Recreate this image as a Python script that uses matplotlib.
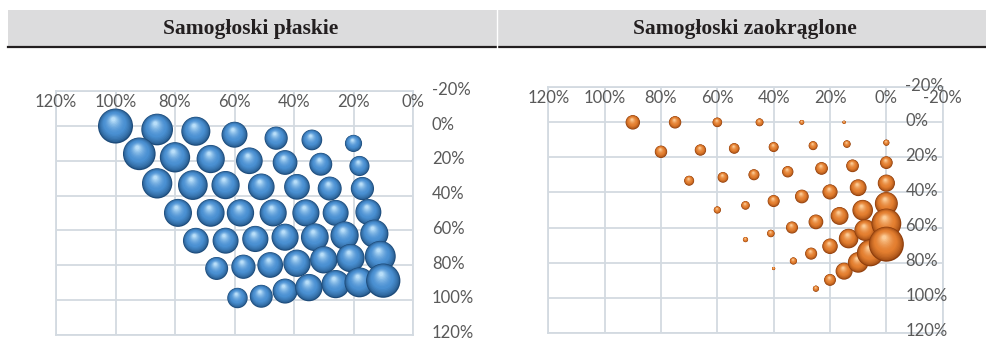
import matplotlib
matplotlib.use("Agg")
import matplotlib.pyplot as plt
import matplotlib.transforms as mtransforms
import numpy as np
from matplotlib.colors import to_rgb

# samogłoski płaskie (x, y w %, wielkość bąbla - wartość względna)
flat_x = [100, 86, 73, 60, 46, 34, 20,
          92, 80, 68, 55, 43, 31, 18,
          86, 74, 63, 51, 39, 28, 17,
          79, 68, 58, 47, 36, 26, 15,
          73, 63, 53, 43, 33, 23, 13,
          66, 57, 48, 39, 30, 21, 11,
          59, 51, 43, 35, 26, 18, 10]
flat_y = [0, 2, 3, 5, 7, 8, 10,
          16, 18, 19, 20, 21, 22, 23,
          33, 34, 34, 35, 35, 36, 36,
          50, 50, 50, 50, 50, 50, 49.5,
          66, 66, 65, 64, 64, 63, 62,
          82, 81, 80, 79, 77, 76, 75,
          99, 98, 95, 93, 91, 90, 89]
flat_v = [100, 82, 69, 55, 44, 35, 24,
          87, 75, 65, 58, 50, 43, 33,
          75, 72, 65, 58, 54, 47, 44,
          64, 63, 61, 60, 60, 55, 55,
          54, 55, 56, 60, 63, 65, 65,
          43, 48, 54, 61, 61, 65, 78,
          34, 43, 51, 61, 65, 73, 96]

# samogłoski zaokrąglone
round_x = [90, 75, 60, 45, 30, 15,
           80, 66, 54, 40, 26, 14, 0,
           70, 58, 47, 35, 23, 12, 0,
           60, 50, 40, 30, 20, 10, 0,
           50, 41, 33.5, 25, 16.6, 8.4, 0,
           40, 33, 26.7, 20, 13.4, 7.5, 0,
           25, 20, 15, 10, 5.7, 0]
round_y = [0, 0, 0, 0, 0, 0,
           16.8, 15.8, 14.9, 14.1, 13.3, 12.4, 11.6,
           33.3, 31.4, 29.9, 28.2, 26.3, 24.8, 23,
           50, 47.4, 44.9, 42.3, 39.7, 37.3, 34.7,
           66.9, 63.4, 60, 56.8, 53.4, 50.1, 46.3,
           83.4, 79.1, 74.9, 70.7, 66.3, 61.5, 57.7,
           94.9, 89.9, 84.9, 79.9, 74.5, 69.5]
round_v = [17, 12.5, 7.5, 5.1, 1.9, 0.9,
           12.5, 10.5, 9.2, 8.1, 6.5, 4.6, 3.1,
           8.1, 9.2, 9.9, 10.5, 13.1, 13.1, 13.1,
           4.2, 6, 11.8, 15.3, 18.7, 23, 24.1,
           2.2, 4.6, 11.8, 17.7, 25.9, 34.6, 43,
           0.8, 4.2, 11.8, 19.5, 31.2, 38.1, 72.8,
           3.1, 11.4, 23.6, 34.6, 58.5, 100]

ticks = [120, 100, 80, 60, 40, 20, 0, -20]
titles = ["Samogłoski płaskie", "Samogłoski zaokrąglone"]

DPI = 100
W, H = 986, 340
grid_c = "#d3dae1"
text_c = "#595959"


def spheres(ax, xs, ys, vals, dmax, dark, body, light):
    # kule z cieniowaniem - warstwy coraz mniejszych kół przesuniętych do góry
    dark, body, light = map(np.array, map(to_rgb, (dark, body, light)))
    pts = ax.transData.transform(np.column_stack([xs, ys]))
    inv = ax.transData.inverted()
    vals = np.array(vals, float)
    d = dmax * np.sqrt(vals / vals.max())
    n = 16
    for i in range(len(xs)):
        r = d[i] / 2
        lx, ly, ss, cc = [], [], [], []
        for k in range(n):
            t = k / (n - 1)
            rr = r * (1 - 0.88 * t)
            off = np.array([-0.12 * r * t, 0.38 * r * t])
            c = pts[i] + off
            lx.append(c[0]); ly.append(c[1])
            ss.append((2 * rr * 72 / DPI) ** 2)
            if t < 0.4:
                col = dark + (body - dark) * (t / 0.4) ** 0.6
            else:
                col = body + (light - body) * ((t - 0.4) / 0.6) ** 1.6
            cc.append(np.clip(col, 0, 1))
        dc = inv.transform(np.column_stack([lx, ly]))
        ax.scatter(dc[:, 0], dc[:, 1], s=ss, c=cc, linewidths=0, zorder=3 + i * 0.01)


def setup(ax, xmax, xmin):
    ax.set_xlim(xmax, xmin)
    ax.set_ylim(120, -20)
    ax.set_xticks([t for t in ticks if xmin <= t <= xmax])
    ax.set_yticks(ticks)
    ax.tick_params(length=0, labelbottom=False, labelleft=False)
    ax.grid(True, color=grid_c, lw=1.3)
    ax.set_axisbelow(True)
    for s in ax.spines.values():
        s.set_color(grid_c)
        s.set_linewidth(1.3)
    for t in ticks:
        if xmin <= t <= xmax:
            ax.text(t, -14, f"{t}%", ha="center", va="center", color=text_c,
                    fontsize=12, family="Lato", zorder=10)
    # etykiety osi y po prawej stronie linii 0%
    tr = mtransforms.offset_copy(ax.transData, fig=ax.figure, x=19 * 72 / DPI,
                                 y=1.5 * 72 / DPI, units="points")
    for t in ticks:
        ax.text(0, t, f"{t}%", ha="left", va="center", color=text_c,
                fontsize=12, family="Lato", transform=tr, clip_on=False, zorder=10)


fig = plt.figure(figsize=(W / DPI, H / DPI), dpi=DPI)

# nagłówek tabeli
hdr = fig.add_axes([0, 0, 1, 1])
hdr.set_xlim(0, W)
hdr.set_ylim(H, 0)
hdr.axis("off")
hdr.add_patch(plt.Rectangle((8, 10), W - 8, 36, color="#dcdcdd", lw=0, zorder=0))
hdr.plot([8, W], [47, 47], color="#231f20", lw=1.6)
hdr.plot([497, 497], [10, 48], color="white", lw=1)
hdr.text(251, 29, titles[0], ha="center", va="center", fontsize=15.5,
         family="Liberation Serif", weight="bold", color="#231f20")
hdr.text(745, 29, titles[1], ha="center", va="center", fontsize=15.5,
         family="Liberation Serif", weight="bold", color="#231f20")

# wykres lewy
ax1 = fig.add_axes([56 / W, 1 - 334.5 / H, 357 / W, (334.5 - 91.3) / H])
setup(ax1, 120, 0)
spheres(ax1, flat_x, flat_y, flat_v, 35, "#1d4b7a", "#4a90d2", "#b8def9")

# wykres prawy
ax2 = fig.add_axes([548.3 / W, 1 - 332.7 / H, 394.4 / W, (332.7 - 87.3) / H])
setup(ax2, 120, -20)
spheres(ax2, round_x, round_y, round_v, 35, "#8e3d0c", "#e47f30", "#fccb96")

fig.savefig("out.png", dpi=DPI)
